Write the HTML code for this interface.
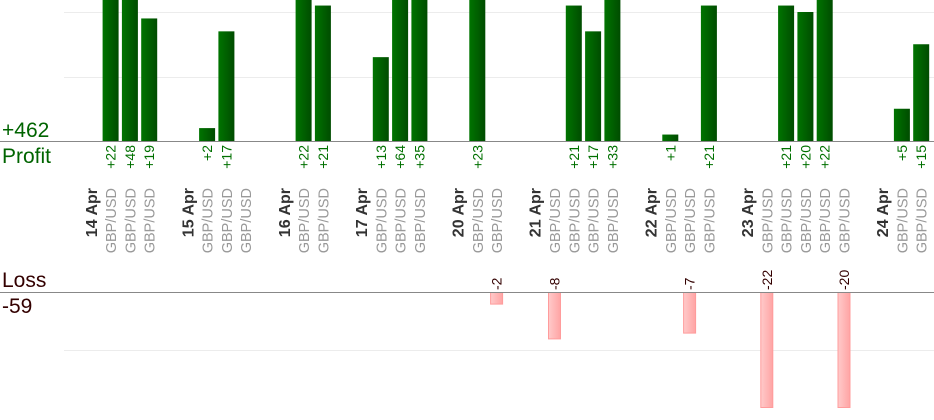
<!DOCTYPE html>
<html><head><meta charset="utf-8"><style>
body{margin:0;background:#fff;}
svg{display:block;font-family:"Liberation Sans",sans-serif;}
</style></head><body>
<svg width="934" height="420" viewBox="0 0 934 420" xmlns="http://www.w3.org/2000/svg">
<defs>
<linearGradient id="g" x1="0" x2="1" y1="0" y2="0"><stop offset="0" stop-color="#007400"/><stop offset="1" stop-color="#004c00"/></linearGradient>
<linearGradient id="p" x1="0" x2="1" y1="0" y2="0"><stop offset="0" stop-color="#ffcaca"/><stop offset="1" stop-color="#ffa4a4"/></linearGradient>
</defs>
<g stroke="#ececec" stroke-width="1">
<line x1="64" x2="934" y1="12.5" y2="12.5"/><line x1="64" x2="934" y1="77.5" y2="77.5"/><line x1="64" x2="934" y1="350.5" y2="350.5"/>
</g>
<g id="bars"></g>
<line x1="0" x2="934" y1="141.5" y2="141.5" stroke="#888"/>
<line x1="0" x2="934" y1="292.5" y2="292.5" stroke="#888"/>
<text x="2" y="137" font-size="21" fill="#006400">+462</text>
<text x="2" y="163" font-size="21" fill="#006400">Profit</text>
<text x="2" y="287" font-size="21" fill="#330000">Loss</text>
<text x="2" y="313" font-size="21" fill="#330000">-59</text>
<g id="lbl"></g>
</svg>
<script>
var P=19.3,X0=72;function cx(k){return X0+k*P;}
var groups=[["14 Apr",[22,48,19]],["15 Apr",[2,17,null]],["16 Apr",[22,21]],["17 Apr",[13,64,35]],["20 Apr",[23,-2]],["21 Apr",[-8,21,17,33]],["22 Apr",[1,-7,21]],["23 Apr",[-22,21,20,22,-20]],["24 Apr",[5,15]]];
var s="",b="",k=0;
function rt(x,y,t,a,fs,fill,fw){return '<text transform="translate('+x+','+y+') rotate(-90)" text-anchor="'+a+'" font-size="'+fs+'" fill="'+fill+'"'+(fw?' font-weight="bold"':'')+'>'+t+'</text>';}
groups.forEach(function(g){k++;var c=cx(k);s+=rt(c+5.5,188,g[0],"end",16,"#333",1);
g[1].forEach(function(v){k++;c=cx(k);s+=rt(c+5.5,188,"GBP/USD","end",14.5,"#999");
if(v===null)return;
if(v>0){var h=v*6.45;b+='<rect x="'+(c-8)+'" y="'+(141-h)+'" width="16" height="'+h+'" fill="url(#g)"/>';s+=rt(c+5,145,"+"+v,"end",14,"#007000");}
else{var h=Math.min(-v*5.8,115);b+='<rect x="'+(c-6)+'" y="292.5" width="12" height="'+h+'" fill="url(#p)" stroke="#ff9c9c"/>';s+=rt(c+5,290,v,"start",14,"#330000");}
});k++;});
document.getElementById("bars").innerHTML=b;document.getElementById("lbl").innerHTML=s;
</script>
</body></html>
